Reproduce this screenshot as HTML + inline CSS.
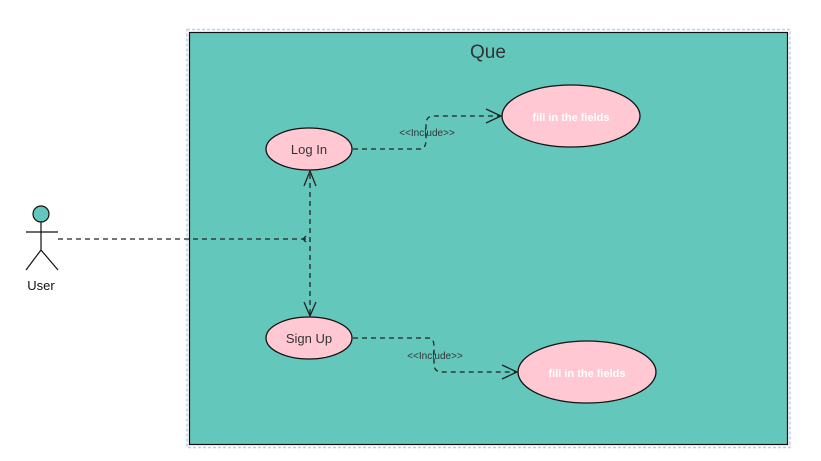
<!DOCTYPE html>
<html><head><style>body{margin:0;background:#fff;}svg{display:block}</style></head><body>
<svg width="821" height="461" viewBox="0 0 821 461" xmlns="http://www.w3.org/2000/svg" font-family="Liberation Sans, sans-serif">
<rect x="187" y="29.5" width="603" height="418" fill="none" stroke="#bcd0ee" stroke-width="1.5" stroke-dasharray="3,2"/>
<rect x="189.5" y="32.5" width="598" height="412" fill="#64c7bc" stroke="#111" stroke-width="1.2"/>
<text x="488" y="58" font-size="19" fill="#333" text-anchor="middle">Que</text>
<g stroke="#222" stroke-width="1.3" fill="none" stroke-dasharray="5,4">
<path d="M58 239 H306"/>
<path d="M310 174 V316"/>
<path d="M353 149 H420 Q426 149 426 140 V124 Q426 116 434 116 H500"/>
<path d="M353 338 H428 Q434 338 434 346 V364 Q434 372 442 372 H516"/>
</g>
<g stroke="#222" stroke-width="1.3" fill="none">
<path d="M304 186 L310 171 L316 186"/>
<path d="M304 302 L310 316 L316 302"/>
<path d="M486 109 L501 116 L486 123"/>
<path d="M502 365 L517 372 L502 379"/>
<path d="M306 236 L303 239 L306 242"/>
</g>
<ellipse cx="309" cy="149" rx="43" ry="21" fill="#ffc8d3" stroke="#111" stroke-width="1.3"/>
<text x="309" y="154" font-size="13" fill="#333" text-anchor="middle">Log In</text>
<ellipse cx="309" cy="338" rx="43" ry="21" fill="#ffc8d3" stroke="#111" stroke-width="1.3"/>
<text x="309" y="343" font-size="13" fill="#333" text-anchor="middle">Sign Up</text>
<ellipse cx="571" cy="116" rx="69" ry="31" fill="#ffc8d3" stroke="#111" stroke-width="1.3"/>
<text x="571" y="121" font-size="11" font-weight="bold" fill="#fff" text-anchor="middle">fill in the fields</text>
<ellipse cx="587" cy="372" rx="69" ry="31" fill="#ffc8d3" stroke="#111" stroke-width="1.3"/>
<text x="587" y="377" font-size="11" font-weight="bold" fill="#fff" text-anchor="middle">fill in the fields</text>
<text x="427" y="136" font-size="10" fill="#333" text-anchor="middle">&lt;&lt;Include&gt;&gt;</text>
<text x="435" y="359" font-size="10" fill="#333" text-anchor="middle">&lt;&lt;Include&gt;&gt;</text>
<circle cx="41" cy="214" r="8" fill="#64c7bc" stroke="#111" stroke-width="1.2"/>
<g stroke="#111" stroke-width="1.2" fill="none">
<path d="M41 222 V250 M26 232 H58 M41 250 L26 270 M41 250 L58 270"/>
</g>
<text x="41" y="290" font-size="13" fill="#111" text-anchor="middle">User</text>
</svg>
</body></html>
